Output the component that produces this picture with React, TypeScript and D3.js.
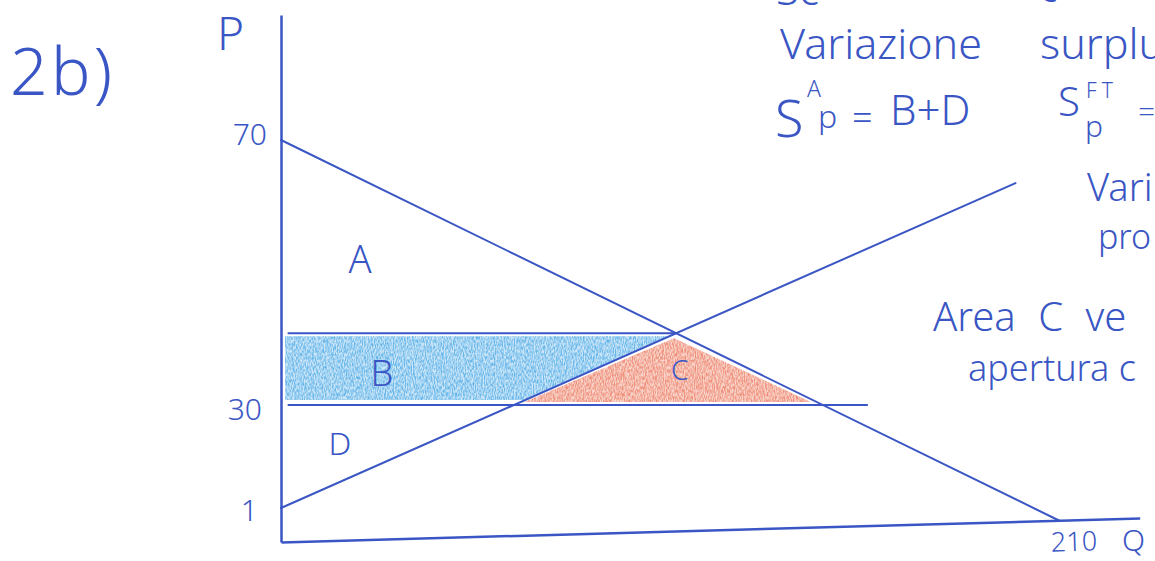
import * as d3 from "d3";
import {useEffect, useRef} from "react";

type Pt = {q: number, p: number};

// values
const priceTicks = [1, 30, 70];
const quantityTicks = [210];
const demand: Pt[] = [{q: 0, p: 70}, {q: 210, p: 0}];
const supply: Pt[] = [{q: 0, p: 1}, {q: 198, p: 63.5}];
const worldPrice = 30;
const worldPriceQ = [2, 158];
const areaNames = ["A", "B", "C", "D"];

const W = 1155;
const H = 561;
const ink = "#3a56c4";
const font = "'Noto Sans', 'DejaVu Sans', sans-serif";

const App = () => {
    const chartRef = useRef<SVGSVGElement>(null);

    useEffect(() => {
        const svg = d3.select(chartRef.current);
        svg.selectAll("*").remove();

        // the sketch is not to scale on P, so the price scale is piecewise
        const x = d3.scaleLinear().domain([0, 210]).range([281, 1060]);
        const y = d3.scaleLinear()
            .domain([-1.6, 0, 1, 30, 70, 88.6])
            .range([542, 521, 508, 405, 140, 15]);
        const qEnd = x.invert(1140);

        const px = (d: Pt): [number, number] => [x(d.q), y(d.p)];
        const xAt = (line: Pt[], yy: number) => {
            const [x0, y0] = px(line[0]);
            const [x1, y1] = px(line[1]);
            return x0 + (yy - y0) * (x1 - x0) / (y1 - y0);
        };
        const cross = (a: Pt[], b: Pt[]): [number, number] => {
            const [x1, y1] = px(a[0]), [x2, y2] = px(a[1]);
            const [x3, y3] = px(b[0]), [x4, y4] = px(b[1]);
            const den = (x1 - x2) * (y3 - y4) - (y1 - y2) * (x3 - x4);
            const t = ((x1 - x3) * (y3 - y4) - (y1 - y3) * (x3 - x4)) / den;
            return [x1 + t * (x2 - x1), y1 + t * (y2 - y1)];
        };

        // crayon texture
        const defs = svg.append("defs");
        const f = defs.append("filter").attr("id", "crayon")
            .attr("x", 0).attr("y", 0).attr("width", 1).attr("height", 1);
        f.append("feTurbulence").attr("type", "fractalNoise")
            .attr("baseFrequency", "0.9 0.3").attr("numOctaves", 2).attr("seed", 4)
            .attr("result", "noise");
        f.append("feColorMatrix").attr("in", "noise").attr("type", "matrix")
            .attr("values", "0 0 0 0 0  0 0 0 0 0  0 0 0 0 0  2.4 0 0 0 -0.75")
            .attr("result", "mask");
        f.append("feComposite").attr("in", "SourceGraphic").attr("in2", "mask").attr("operator", "in");

        const eq = cross(demand, supply);
        const y30 = y(worldPrice);

        const yTop = eq[1] + 3;
        const yBot = y30 - 5;
        const blue: [number, number][] = [
            [x(0) + 4, yTop], [xAt(supply, yTop) - 2, yTop],
            [xAt(supply, yBot) - 2, yBot], [x(0) + 4, yBot]
        ];
        const yR = y30 - 3;
        const red: [number, number][] = [
            [xAt(supply, yR) + 4, yR], [eq[0] - 2, eq[1] + 5], [xAt(demand, yR) - 6, yR]
        ];

        const poly = (pts: [number, number][]) => "M" + pts.map(p => p.join(",")).join("L") + "Z";

        svg.append("path").attr("d", poly(blue)).attr("fill", "#cde7f8");
        svg.append("path").attr("d", poly(blue)).attr("fill", "#66b6ea").attr("filter", "url(#crayon)");
        svg.append("path").attr("d", poly(red)).attr("fill", "#f9d6cc");
        svg.append("path").attr("d", poly(red)).attr("fill", "#ef8d78").attr("filter", "url(#crayon)");

        const line = d3.line<Pt>().x(d => x(d.q)).y(d => y(d.p));
        const stroke = (sel: any, w: number) => sel.attr("fill", "none").attr("stroke", ink)
            .attr("stroke-width", w).attr("stroke-linecap", "round");

        stroke(svg.append("path").attr("d", line(demand)), 2);
        stroke(svg.append("path").attr("d", line(supply)), 2);
        stroke(svg.append("path").attr("d", line(worldPriceQ.map(q => ({q, p: worldPrice})))), 2);
        const pStar = y.invert(eq[1]);
        stroke(svg.append("path").attr("d", line([{q: worldPriceQ[0], p: pStar}, {q: x.invert(eq[0]), p: pStar}])), 2);

        // axes
        const yAxis = svg.append("g")
            .attr("transform", `translate(${x(0)},0)`)
            .attr("color", ink)
            .call(d3.axisLeft(y).tickValues(priceTicks).tickSize(0).tickSizeOuter(0).tickPadding(14));
        yAxis.select(".domain").attr("stroke-width", 2.5);
        const nudge: Record<number, [number, number]> = {70: [0, -5], 30: [-5, 5], 1: [-9, 3]};
        yAxis.selectAll<SVGTextElement, number>("text")
            .attr("font-size", 30).attr("font-family", font).attr("font-weight", 300).attr("fill", ink)
            .attr("dx", d => nudge[d][0]).attr("y", d => nudge[d][1]);

        const xAxis = svg.append("g")
            .attr("transform", `translate(0,542) rotate(-1.6, ${x(0)}, 0)`)
            .attr("color", ink)
            .call(d3.axisBottom(d3.scaleLinear().domain([0, qEnd]).range([x(0), x(qEnd)]))
                .tickValues(quantityTicks).tickSize(0).tickSizeOuter(0).tickPadding(12));
        xAxis.select(".domain").attr("stroke-width", 2.5);
        xAxis.selectAll("text")
            .attr("font-size", 27).attr("font-family", font).attr("font-weight", 300).attr("fill", ink)
            .attr("text-anchor", "start").attr("dx", -10);

        const write = (t: string, xx: number, yy: number, size: number) =>
            svg.append("text").attr("x", xx).attr("y", yy).attr("font-size", size)
                .attr("font-family", font).attr("font-weight", 300).attr("fill", ink).text(t);

        write("2b)", 10, 95, 66).attr("textLength", 102).attr("lengthAdjust", "spacing");
        write("P", 217, 50, 46);
        write("Q", 1122, 551, 30);

        // area letters, placed in (Q, P) units
        const spots: Record<string, [number, number, number]> = {
            A: [21.3, 50, 38], B: [27.2, 32.9, 36], C: [107.5, 33.8, 28], D: [15.9, 15.9, 32]
        };
        areaNames.forEach(n => {
            const [q, p, s] = spots[n];
            write(n, x(q), y(p), s).attr("text-anchor", "middle");
        });

        // notes on the right, as far as the page edge shows them
        write("Sc", 776, 5, 42);
        write("c", 1040, 2, 36);
        write("Variazione", 780, 59, 43);
        write("surplu", 1040, 59, 43);
        write("S", 775, 137, 52);
        write("A", 807, 97, 23);
        write("p", 818, 128, 32);
        write("=", 852, 130, 36);
        write("B+D", 890, 125, 42);
        write("S", 1058, 116, 40);
        write("FT", 1086, 98, 21).attr("letter-spacing", 5);
        write("p", 1085, 137, 30);
        write("=", 1138, 122, 30);
        write("Vari", 1087, 201, 38);
        write("pro", 1098, 249, 34);
        write("Area C ve", 933, 331, 40).attr("word-spacing", 12);
        write("apertura c", 968, 381, 36);
    }, []);

    return (
        <svg ref={chartRef} width={W} height={H}
             style={{position: "absolute", left: 0, top: 0, background: "#fff"}}></svg>
    );
};

export default App;
